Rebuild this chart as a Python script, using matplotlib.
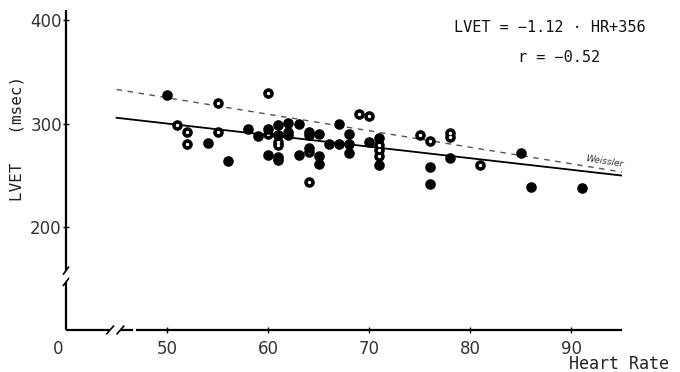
import matplotlib
matplotlib.use("Agg")
import matplotlib.pyplot as plt
import numpy as np

# ---- data ----
filled_hr = [50, 54, 56, 58, 59, 60, 60, 61, 61, 61, 62, 62, 63, 63, 64, 64, 65, 65, 65,
             66, 67, 67, 68, 68, 68, 70, 71, 71, 76, 76, 78, 85, 86, 91]
filled_lvet = [328, 281.5, 264, 295, 288, 295, 270, 299, 289, 268, 301, 292, 300, 270, 292, 276,
               290, 269, 260.5, 280, 300, 280, 290, 280, 271.5, 282, 286, 259.5, 258, 241.5,
               267, 271, 239, 238]
open_hr = [51, 52, 52, 55, 55, 60, 60, 61, 61, 61, 62, 64, 64, 64, 69, 70, 71, 71, 71,
           75, 76, 78, 78, 81]
open_lvet = [299, 292, 280, 320, 292, 330, 290, 282, 279, 265, 289, 288.5, 272, 243, 309,
             307.5, 279, 274, 269, 289, 283, 291, 287, 259.5]

fit_slope, fit_icpt = -1.12, 356        # LVET = -1.12*HR + 356
weis_slope, weis_icpt = -1.6, 405       # Weissler line as drawn
line_hr = [45, 95]

xticks = [50, 60, 70, 80, 90]
yticks = [200, 300, 400]

fig = plt.figure(figsize=(6.8, 3.72), dpi=100)
ax = fig.add_axes([66/680, 1-330/372, (622-66)/680, 320/372])
ax.set_xlim(40, 95)
ax.set_ylim(100, 410)
for s in ax.spines.values():
    s.set_visible(False)

# regression lines
hr = np.array(line_hr)
ax.plot(hr, fit_slope*hr + fit_icpt, color="black", lw=1.3, zorder=2)
ax.plot(hr, weis_slope*hr + weis_icpt, color="#555555", lw=1.0,
        dashes=(4, 4), zorder=2)
ax.text(93.3, 263, "Weissler", fontsize=6.5, style="italic", color="#333333",
        rotation=-9, ha="center", va="center")

# points: open first (ring with white centre), filled on top
ax.scatter(open_hr, open_lvet, s=58, color="black", zorder=3, linewidths=0)
ax.scatter(open_hr, open_lvet, s=6, color="white", zorder=3.5, linewidths=0)
ax.scatter(filled_hr, filled_lvet, s=58, color="black", zorder=4, linewidths=0)

# axes lines with breaks
lw = 1.6
kw = dict(color="black", lw=lw, clip_on=False, solid_capstyle="butt", zorder=5)
ax.plot([40, 40], [100, 146.5], **kw)
ax.plot([40, 40], [157.5, 410], **kw)
ax.plot([40, 44.36], [100, 100], **kw)
ax.plot([45.38, 46.6], [100, 100], **kw)
ax.plot([46.9, 95], [100, 100], **kw)
kb = dict(color="black", lw=1.2, clip_on=False, zorder=5)
for yc in (157.5, 146.5):
    ax.plot([40-0.25, 40+0.25], [yc-3.3, yc+3.3], **kb)
for xc in (44.36, 45.38):
    ax.plot([xc-0.33, xc+0.33], [100-3.7, 100+3.7], **kb)

ax.set_xticks(xticks)
ax.set_yticks(yticks)
ax.tick_params(axis="both", direction="inout", length=4, width=1.0, color="black",
               labelsize=12, labelcolor="#333333")
ax.tick_params(axis="x", pad=5)
ax.tick_params(axis="y", pad=1)
ax.text(39.2, 100 - 10/1.032, "0", fontsize=12, color="#333333", ha="center", va="top")

fig.text(17/680, 1-138/372, "LVET   (msec)", family="DejaVu Sans Mono", fontsize=11.5,
         rotation=90, ha="center", va="center", color="#222222")
fig.text(619/680, 1-364/372, "Heart Rate", family="DejaVu Sans Mono", fontsize=12,
         ha="center", va="center", color="#222222")
fig.text(550/680, 1-28/372, "LVET = \u22121.12 \u00b7 HR+356", family="DejaVu Sans Mono",
         fontsize=11, ha="center", va="center", color="#111111")
fig.text(559/680, 1-57/372, "r = \u22120.52", family="DejaVu Sans Mono",
         fontsize=11, ha="center", va="center", color="#111111")

fig.savefig("out.png", dpi=100)
